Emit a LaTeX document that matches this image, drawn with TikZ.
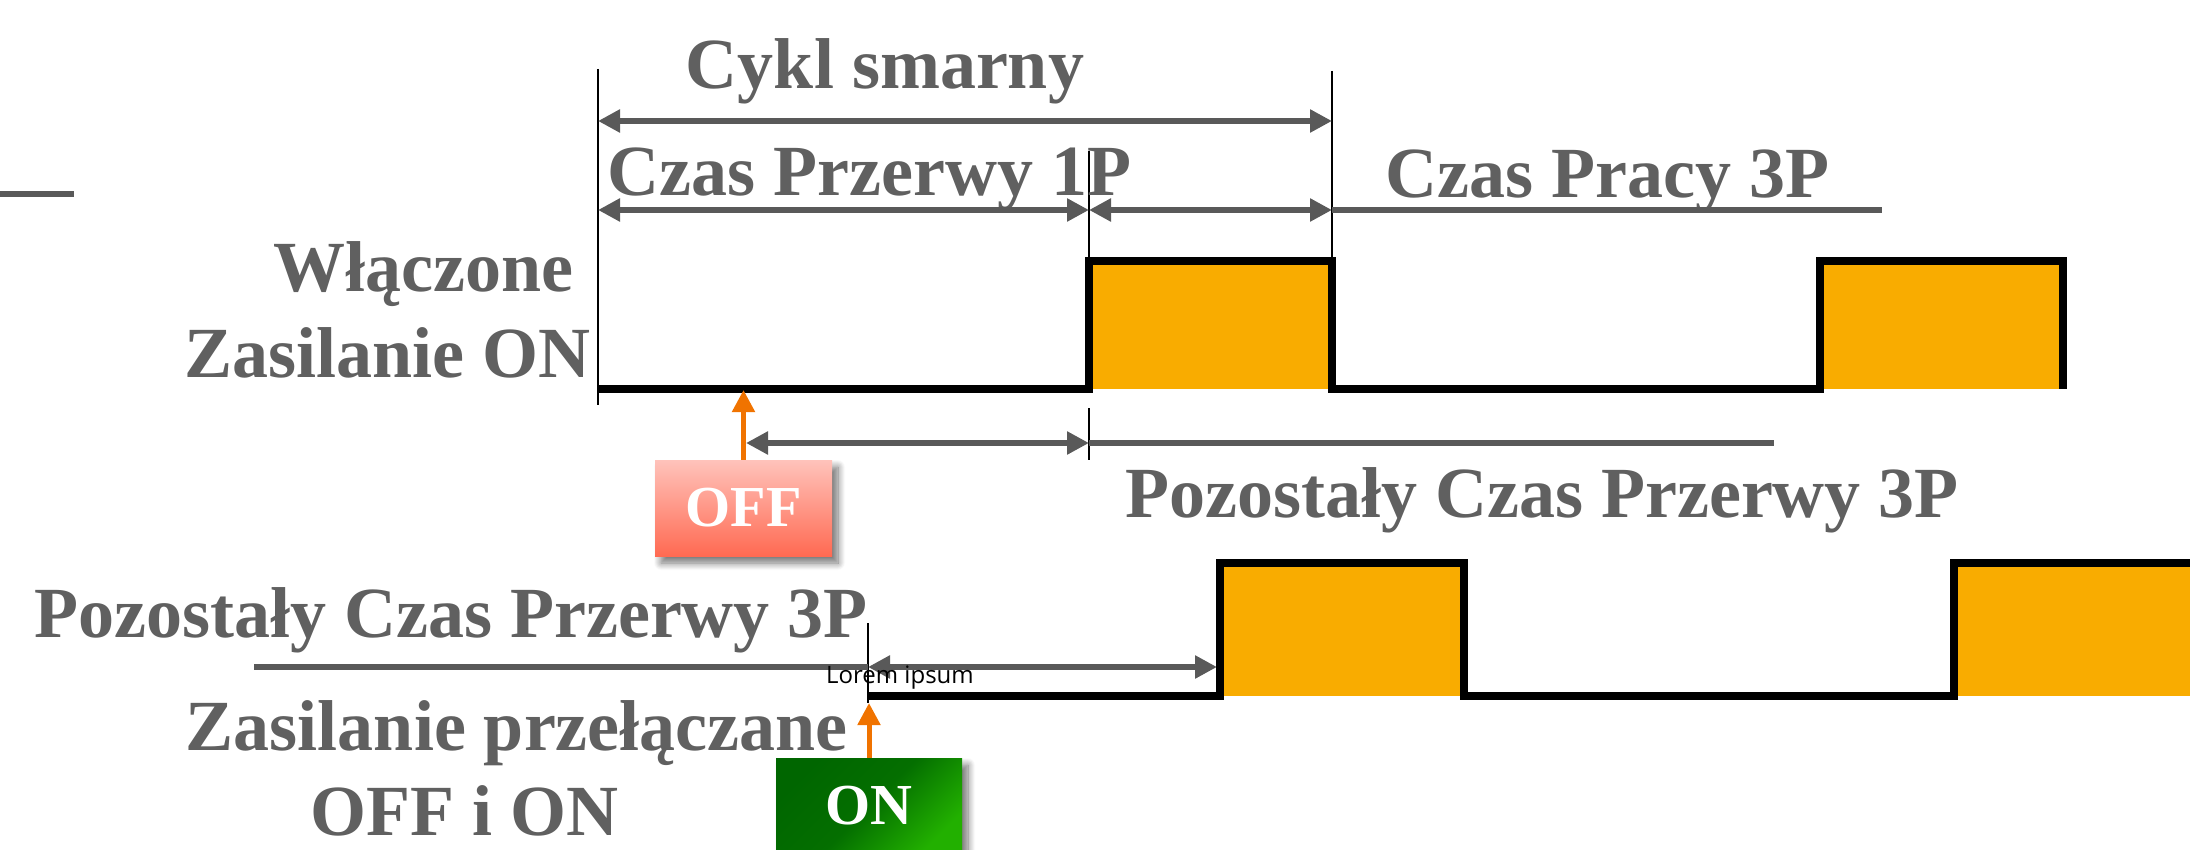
\documentclass[tikz,border=0pt]{standalone}
\usepackage{fontspec}
\setmainfont{Liberation Serif}
\newfontfamily\loremfont{Open Sans}
\usetikzlibrary{arrows.meta,shadows.blur}
\definecolor{txtgray}{HTML}{606060}
\definecolor{linegray}{HTML}{595959}
\definecolor{pulseorange}{HTML}{F9AC00}
\definecolor{swarrow}{HTML}{F07300}
\definecolor{offtop}{HTML}{FFC3BB}
\definecolor{offbot}{HTML}{FF6A52}
\definecolor{ondark}{HTML}{006600}
\definecolor{onlight}{HTML}{22B000}
\begin{document}
\begin{tikzpicture}[x=1pt,y=-1pt,
  bigtxt/.style={inner sep=0pt, text=txtgray, font=\fontsize{72}{80}\selectfont\bfseries},
  lorem/.style={inner sep=0pt, anchor=base, font=\loremfont\fontsize{24}{28}\selectfont},
  dimarrow/.style={draw=linegray, line width=5.5pt, {Triangle[length=22pt,width=22pt]}-{Triangle[length=22pt,width=22pt]}},
  plainline/.style={draw=linegray, line width=5.5pt},
  guide/.style={draw=black, line width=2.3pt},
  wave/.style={draw=black, line width=8pt, line join=miter},
  pulse/.style={fill=pulseorange},
  swline/.style={draw=swarrow, line width=5pt, -{Triangle[length=22pt,width=22pt]}},
  softshadow/.style={blur shadow={shadow xshift=6pt, shadow yshift=-7pt, shadow blur radius=7pt, shadow blur steps=10, shadow opacity=55}},
  offbox/.style={softshadow, minimum width=177pt, minimum height=96pt, inner sep=0pt, top color=offtop, bottom color=offbot, text=white, font=\fontsize{58}{60}\selectfont\bfseries},
  onbox/.style={softshadow, minimum width=186pt, minimum height=96pt, inner sep=0pt, top color=ondark, bottom color=onlight, middle color=ondark!88!onlight, shading angle=45, text=white, font=\fontsize{58}{60}\selectfont\bfseries}]
\useasboundingbox (0,0) rectangle (2190,850);
\coordinate (cut0) at (0,194);
\coordinate (cut1) at (74,194);
\draw[plainline] (cut0) -- (cut1);
\fill[pulse] (1089,261) rectangle (1332,389);
\fill[pulse] (1820,261) rectangle (2063,389);
\fill[pulse] (1220,563) rectangle (1464,696);
\fill[pulse] (1954,563) rectangle (2200,696);
\coordinate (gA0) at (598,69);
\coordinate (gA1) at (598,405);
\coordinate (gB0) at (1332,71);
\coordinate (gB1) at (1332,261);
\coordinate (gC0) at (1089,151);
\coordinate (gC1) at (1089,261);
\coordinate (gC2) at (1089,408);
\coordinate (gC3) at (1089,460);
\coordinate (gD0) at (868,623);
\coordinate (gD1) at (868,703);
\draw[guide] (gA0) -- (gA1);
\draw[guide] (gB0) -- (gB1);
\draw[guide] (gC0) -- (gC1);
\draw[guide] (gC2) -- (gC3);
\draw[guide] (gD0) -- (gD1);
\node[bigtxt, anchor=base] (cykl) at (885,89) {Cykl smarny};
\node[bigtxt, anchor=base west] (przerwa) at (607,196) {Czas Przerwy 1P};
\node[bigtxt, anchor=base west] (praca) at (1385,198) {Czas Pracy 3P};
\node[bigtxt, anchor=base east] (wlacz) at (574,292) {Włączone};
\node[bigtxt, anchor=base east] (zasil) at (591,377) {Zasilanie ON};
\node[bigtxt, anchor=base west] (pozost1) at (1125,517) {Pozostały Czas Przerwy 3P};
\node[bigtxt, anchor=base west] (pozost2) at (34,637) {Pozostały Czas Przerwy 3P};
\node[bigtxt, anchor=base east] (przel) at (848,750) {Zasilanie przełączane};
\node[bigtxt, anchor=base west] (offon) at (310,835) {OFF i ON};
\coordinate (cyc0) at (598,121);
\coordinate (cyc1) at (1332,121);
\coordinate (pp0) at (598,210);
\coordinate (pp1) at (1089,210);
\coordinate (pp2) at (1332,210);
\coordinate (pp3) at (1882,210);
\draw[dimarrow] (cyc0) -- (cyc1);
\draw[dimarrow] (pp0) -- (pp1);
\draw[dimarrow] (pp1) -- (pp2);
\draw[plainline] (pp2) -- (pp3);
\coordinate (rm0) at (746,443);
\coordinate (rm1) at (1089,443);
\coordinate (rm2) at (1774,443);
\draw[dimarrow] (rm0) -- (rm1);
\draw[plainline] (rm1) -- (rm2);
\coordinate (lr0) at (254,667);
\coordinate (lr1) at (868,667);
\coordinate (lr2) at (1217,667);
\draw[plainline] (lr0) -- (lr1);
\draw[dimarrow] (lr1) -- (lr2);
\node[lorem] (lorem) at (900,683) {Lorem ipsum};
\coordinate (w0) at (598,389);
\coordinate (w1) at (1089,389);
\coordinate (w2) at (1089,261);
\coordinate (w3) at (1332,261);
\coordinate (w4) at (1332,389);
\coordinate (w5) at (1820,389);
\coordinate (w6) at (1820,261);
\coordinate (w7) at (2063,261);
\coordinate (w8) at (2063,389);
\draw[wave] (w0) -- (w1) -- (w2) -- (w3) -- (w4) -- (w5) -- (w6) -- (w7) -- (w8);
\coordinate (v0) at (868,696);
\coordinate (v1) at (1220,696);
\coordinate (v2) at (1220,563);
\coordinate (v3) at (1464,563);
\coordinate (v4) at (1464,696);
\coordinate (v5) at (1954,696);
\coordinate (v6) at (1954,563);
\coordinate (v7) at (2200,563);
\draw[wave] (v0) -- (v1) -- (v2) -- (v3) -- (v4) -- (v5) -- (v6) -- (v7);
\node[offbox] (off) at (743.5,508) {OFF};
\node[onbox] (on) at (869,806) {ON};
\coordinate (offhit) at (743.5,390);
\coordinate (onhit) at (869,703);
\draw[swline] (off.north) -- (offhit);
\draw[swline] (on.north) -- (onhit);
\end{tikzpicture}
\end{document}
